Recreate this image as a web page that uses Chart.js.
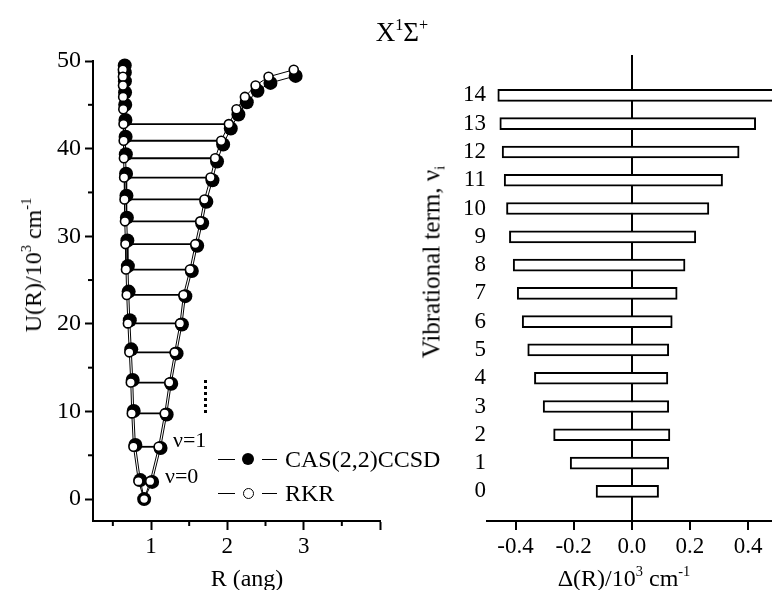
<!DOCTYPE html>
<html><head><meta charset="utf-8">
<script src="https://cdn.jsdelivr.net/npm/chart.js@4"></script>
<style>
html,body{margin:0;padding:0;background:#fff;}
#wrap{position:relative;width:772px;height:590px;overflow:hidden;font-family:"Liberation Serif","Times New Roman",serif;color:#000;}
canvas{position:absolute;top:0;}
.t{position:absolute;white-space:nowrap;line-height:1;}
.rot{transform:translate(-50%,-50%) rotate(-90deg);}
.ctr{transform:translate(-50%,-50%);}
sup{font-size:60%;vertical-align:0;position:relative;top:-0.7em;}
sub{font-size:60%;vertical-align:0;position:relative;top:0.35em;}
.seg{position:absolute;height:0;border-top:1.5px solid #000;}
.dot{position:absolute;border-radius:50%;box-sizing:border-box;}
</style></head>
<body><div id="wrap">
<canvas id="c1" width="392" height="590" style="left:0"></canvas>
<canvas id="c2" width="372" height="590" style="left:400px"></canvas>

<div class="t" style="left:352px;top:19px;width:100px;text-align:center;font-size:27px;">X<sup>1</sup>Σ<sup>+</sup></div>
<div class="t rot" style="left:33px;top:265px;font-size:24px;">U(R)/10<sup>3</sup> cm<sup>-1</sup></div>
<div class="t ctr" style="left:247px;top:578px;font-size:24px;">R (ang)</div>
<div class="t rot" style="left:431px;top:262px;font-size:25px;">Vibrational term, ν<sub>i</sub></div>
<div class="t ctr" style="left:624px;top:578px;font-size:24px;">Δ(R)/10<sup>3</sup> cm<sup>-1</sup></div>

<div class="t" style="left:173px;top:429px;font-size:22px;">ν=1</div>
<div class="t" style="left:165px;top:465px;font-size:22px;">ν=0</div>
<div style="position:absolute;left:204px;top:380px;height:33px;border-left:3px dotted #000;"></div>

<div class="seg" style="left:218px;top:459px;width:17px;"></div>
<div class="dot" style="left:242px;top:453px;width:12px;height:12px;background:#000;"></div>
<div class="seg" style="left:262px;top:459px;width:15px;"></div>
<div class="t" style="left:285px;top:447px;font-size:24px;">CAS(2,2)CCSD</div>
<div class="seg" style="left:218px;top:493px;width:17px;"></div>
<div class="dot" style="left:243px;top:488px;width:11px;height:11px;background:#fff;border:1.5px solid #000;"></div>
<div class="seg" style="left:262px;top:493px;width:15px;"></div>
<div class="t" style="left:285px;top:481px;font-size:24px;">RKR</div>
</div>
<script>
// ---------- Data: left panel (potential curve) ----------
const U_RKR      = [2.05, 5.97, 9.78, 13.3, 16.75, 20.05, 23.3, 26.2, 29.1, 31.7, 34.2, 36.7, 38.9, 40.9, 42.8, 44.5, 45.9, 47.2, 48.2, 49.0];
const R_left_RKR = [0.835, 0.77, 0.748, 0.735, 0.716, 0.697, 0.682, 0.672, 0.665, 0.659, 0.653, 0.648, 0.645, 0.642, 0.64, 0.637, 0.635, 0.633, 0.632, 0.631];
const R_right_RKR= [0.99, 1.10, 1.18, 1.24, 1.31, 1.38, 1.425, 1.51, 1.58, 1.645, 1.70, 1.78, 1.84, 1.92, 2.02, 2.12, 2.23, 2.37, 2.54, 2.87];
const U_left_CAS = [2.17, 6.18, 10.05, 13.6, 17.09, 20.41, 23.68, 26.59, 29.51, 32.12, 34.63, 37.14, 39.35, 41.35, 43.26, 45.0, 46.4, 47.7, 48.7, 49.5];
const R_left_CAS = [0.86, 0.795, 0.773, 0.76, 0.741, 0.722, 0.707, 0.697, 0.69, 0.684, 0.678, 0.673, 0.67, 0.667, 0.665, 0.662, 0.66, 0.658, 0.657, 0.656];
const U_right_CAS= [1.96, 5.84, 9.65, 13.17, 16.63, 19.92, 23.16, 26.04, 28.92, 31.48, 33.94, 36.39, 38.53, 40.47, 42.3, 43.9, 45.3, 46.6, 47.5, 48.3];
const R_right_CAS= [1.015, 1.125, 1.205, 1.265, 1.335, 1.405, 1.45, 1.535, 1.605, 1.67, 1.725, 1.805, 1.865, 1.945, 2.045, 2.145, 2.255, 2.395, 2.565, 2.895];
const R_min = [0.91];
const U_min = [0];
const levelLines = [0,1,2,3,4,5,6,7,8,9,10,11,12,13,14]; // levels drawn with horizontal lines
const xTicksLeft = [1, 2, 3, 4];
const xLabelsLeft = ['1', '2', '3', ''];
const yTicksLeft = [0, 10, 20, 30, 40, 50];
const xMinorLeft = [0.5, 1.5, 2.5, 3.5];
const yMinorLeft = [5, 15, 25, 35, 45];

// ---------- Data: right panel (differences) ----------
const vibTerms   = [0,1,2,3,4,5,6,7,8,9,10,11,12,13,14];
const deltaLeft  = [-0.123,-0.212,-0.269,-0.305,-0.335,-0.358,-0.377,-0.394,-0.408,-0.421,-0.431,-0.439,-0.446,-0.454,-0.461];
const deltaRight = [0.092,0.127,0.131,0.127,0.124,0.127,0.139,0.156,0.183,0.220,0.265,0.312,0.369,0.426,0.50];
const xTicksRight = [-0.4, -0.2, 0, 0.2, 0.4];

Chart.defaults.font.family = '"Liberation Serif","Times New Roman",serif';
Chart.defaults.color = '#000';

const minorTicks = {
  id: 'minorTicks',
  afterDraw(chart, args, opts) {
    const ctx = chart.ctx;
    ctx.save();
    ctx.strokeStyle = '#000';
    ctx.lineWidth = 2;
    const xs = chart.scales.x, ys = chart.scales.y;
    (opts.x || []).forEach(v => {
      const p = xs.getPixelForValue(v);
      ctx.beginPath(); ctx.moveTo(p, xs.top); ctx.lineTo(p, xs.top + opts.len); ctx.stroke();
    });
    (opts.y || []).forEach(v => {
      const p = ys.getPixelForValue(v);
      ctx.beginPath(); ctx.moveTo(ys.right, p); ctx.lineTo(ys.right - opts.len, p); ctx.stroke();
    });
    ctx.restore();
  }
};

// Build left datasets
const branchRKR = [];
const branchCAS = [];
for (let i = U_RKR.length - 1; i >= 0; i--) {
  branchRKR.push({x: R_left_RKR[i], y: U_RKR[i]});
  branchCAS.push({x: R_left_CAS[i], y: U_left_CAS[i]});
}
branchRKR.push({x: R_min[0], y: U_min[0]});
branchCAS.push({x: R_min[0], y: U_min[0]});
for (let i = 0; i < U_RKR.length; i++) {
  branchRKR.push({x: R_right_RKR[i], y: U_RKR[i]});
  branchCAS.push({x: R_right_CAS[i], y: U_right_CAS[i]});
}
const leftDatasets = [
  {label: 'RKR', data: branchRKR, showLine: true, borderColor: '#000', borderWidth: 1,
   pointRadius: 4.5, pointBackgroundColor: '#fff', pointBorderColor: '#000', pointBorderWidth: 1.6, order: 0, clip: false},
  {label: 'CAS(2,2)CCSD', data: branchCAS, showLine: true, borderColor: '#000', borderWidth: 1,
   pointRadius: 7, pointBackgroundColor: '#000', pointBorderColor: '#000', pointBorderWidth: 0, order: 1, clip: false}
];
levelLines.forEach(i => {
  leftDatasets.push({label: 'v' + i, data: [{x: R_left_RKR[i], y: U_RKR[i]}, {x: R_right_RKR[i], y: U_RKR[i]}],
    showLine: true, borderColor: '#000', borderWidth: 1.8, pointRadius: 0, order: 2, clip: false});
});

new Chart(document.getElementById('c1'), {
  type: 'scatter',
  data: {datasets: leftDatasets},
  options: {
    responsive: false, animation: false,
    layout: {padding: {top: 61, right: 12, left: 0, bottom: 0}},
    plugins: {legend: {display: false}, tooltip: {enabled: false},
      minorTicks: {x: xMinorLeft, y: yMinorLeft, len: 5}},
    scales: {
      x: {type: 'linear', min: 0.24, max: 4.0,
        afterBuildTicks: s => { s.ticks = xTicksLeft.map(v => ({value: v})); },
        afterFit: s => { s.height = 69; },
        ticks: {font: {size: 23}, padding: 3, maxRotation: 0,
          callback: (v) => xLabelsLeft[xTicksLeft.indexOf(v)] ?? ''},
        grid: {drawOnChartArea: false, tickLength: 9, tickWidth: 2, tickColor: '#000'},
        border: {color: '#000', width: 2}},
      y: {type: 'linear', min: -2.5, max: 50,
        afterBuildTicks: s => { s.ticks = yTicksLeft.map(v => ({value: v})); },
        afterFit: s => { s.width = 93; },
        ticks: {font: {size: 24}, padding: 4},
        grid: {drawOnChartArea: false, tickLength: 8, tickWidth: 2, tickColor: '#000'},
        border: {color: '#000', width: 2}}
    }
  },
  plugins: [minorTicks]
});

new Chart(document.getElementById('c2'), {
  type: 'bar',
  data: {datasets: [{
    label: 'Δ(R)',
    data: vibTerms.map((v, i) => ({y: v, x: [deltaLeft[i], deltaRight[i]]})),
    backgroundColor: '#fff', borderColor: '#000', borderWidth: 2, borderSkipped: false,
    barThickness: 12
  }]},
  options: {
    indexAxis: 'y', responsive: false, animation: false,
    layout: {padding: {top: 55, right: 0, left: 0, bottom: 0}},
    plugins: {legend: {display: false}, tooltip: {enabled: false}},
    scales: {
      x: {type: 'linear', min: -0.498, max: 0.482, z: 1,
        afterBuildTicks: s => { s.ticks = xTicksRight.map(v => ({value: v})); },
        afterFit: s => { s.height = 69; },
        ticks: {font: {size: 23}, padding: 3, maxRotation: 0, callback: v => Number(v).toFixed(1)},
        grid: {drawOnChartArea: true, tickLength: 9, tickWidth: 2, tickColor: '#000', lineWidth: 2,
          color: c => (c.tick && Math.abs(c.tick.value) < 1e-9) ? '#000' : 'rgba(0,0,0,0)'},
        border: {color: '#000', width: 2}},
      y: {type: 'linear', min: -0.5, max: 14.88,
        afterBuildTicks: s => { s.ticks = vibTerms.map(v => ({value: v})); },
        afterFit: s => { s.width = 87; },
        ticks: {font: {size: 23}, padding: 1},
        grid: {display: false, drawTicks: false},
        border: {display: false}}
    }
  }
});
</script>
</body></html>
